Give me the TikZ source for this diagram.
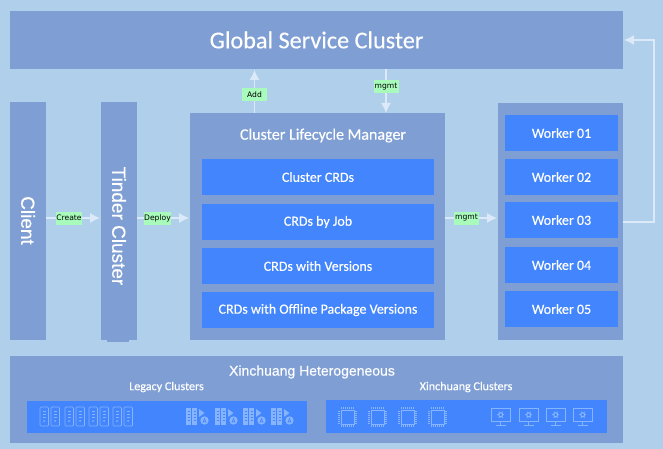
\documentclass[tikz,border=0pt]{standalone}
\usepackage{fontspec}
\setmainfont{Carlito}[FakeBold=0.25]
\newfontfamily\arialfont{Liberation Sans}[FakeBold=0.35]
\newfontfamily\tagfont{DejaVu Sans}
\usetikzlibrary{positioning}
\usetikzlibrary{arrows.meta}
\definecolor{mybg}{HTML}{B0CFEA}
\definecolor{mypanel}{HTML}{7F9FD4}
\definecolor{myblue}{HTML}{4285FC}
\definecolor{mygreen}{HTML}{A8FBBB}
\definecolor{myflow}{HTML}{DCE9F8}
\definecolor{myicon}{HTML}{86B4FF}
\tikzset{
  mypanel/.style={fill=mypanel,inner sep=0,outer sep=0,text=white,align=center},
  mybox/.style={fill=myblue,inner sep=0,outer sep=0,text=white,align=center,font=\fontsize{14}{16}\selectfont},
  mytag/.style={fill=mygreen,inner sep=0,minimum width=25,minimum height=13,text=black,font=\tagfont\fontsize{7.6}{9}\selectfont},
  myarrow/.style={-{Latex[length=10,width=10]},myflow,line width=1.1},
  mytext/.style={text=white,inner sep=0},
  myside/.style={mytext,rotate=-90,font=\arialfont\fontsize{19}{21}\selectfont},
  iconline/.style={draw=myicon,line width=0.7},
  rackpair/.pic={
    \foreach \x in {0,11} {
      \draw[iconline,rounded corners=1] (\x,0) rectangle (\x+8.5,19);
      \foreach \y in {4,7,10} \draw[iconline,line width=0.5] (\x+3,\y) -- (\x+5.5,\y);
      \fill[myicon] (\x+4.2,14) circle (1);
    }
  },
  rackplay/.pic={
    \foreach \x in {0,6} {
      \fill[myicon] (\x,0) rectangle (\x+5,17);
      \foreach \y in {3,6,9,12} \draw[myblue,line width=0.5] (\x+1.5,\y) -- (\x+3.5,\y);
    }
    \fill[myicon] (13,1) -- (18.5,5) -- (13,9) -- cycle;
    \fill[myicon] (18.5,12.5) circle (4.2);
    \draw[myblue,line width=0.6] (16.8,15) -- (18.5,10.5) -- (20.2,15) (17.4,13.6) -- (19.6,13.6);
  },
  chip/.pic={
    \draw[iconline,line width=0.9] (3,3) rectangle (16,17);
    \foreach \t in {4,6,...,16} {
      \draw[iconline,line width=0.5] (\t-0.5,0) -- (\t-0.5,2) (\t-0.5,18) -- (\t-0.5,20);
      \draw[iconline,line width=0.5] (0,\t) -- (2,\t) (17,\t) -- (19,\t);
    }
  },
  monitor/.pic={
    \draw[iconline] (0,0) rectangle (19.5,13.5);
    \draw[iconline,line width=1] (9.7,13.5) -- (9.7,16.5);
    \draw[iconline,line width=1] (5,17) -- (14.5,17);
    \draw[iconline,line width=1.1] (9.7,6.8) circle (2);
    \foreach \a in {0,60,...,300} \draw[iconline,line width=0.8] (9.7,6.8) ++(\a:2.4) -- ++(\a:1.2);
  }
}

\begin{document}
\begin{tikzpicture}[x=1pt,y=-1pt]
  \def\bw{232} % width of the boxes in the manager
  \def\wk{113} % width of the worker boxes
  \def\bh{36} % height of all the small boxes

  \fill[mybg] (0,0) rectangle (663,449);
  \useasboundingbox (0,0) rectangle (663,449);

  % top
  \node[mypanel,minimum width=613,minimum height=58,font=\fontsize{24.2}{28}\selectfont] (global) at (316.5,40) {Global Service Cluster};

  % left columns
  \node[mypanel,minimum width=36,minimum height=238] (client) at (28,221) {};
  \node[myside] (clienttxt) at (28,220.5) {Client};
  \node[mypanel,minimum width=36,minimum height=238] (tinder) at (119,221) {};
  \fill[mypanel] (107,340) rectangle (129,342);
  \node[myside] (tindertxt) at (119,226) {Tinder Cluster};

  % manager
  \node[mypanel,minimum width=255,minimum height=227] (clm) at (317.5,226.5) {};
  \node[mytext,font=\fontsize{16}{19}\selectfont] (clmtxt) at (323,135.5) {Cluster Lifecycle Manager};
  \node[mybox,minimum width=\bw,minimum height=\bh] (crd0) at (318,177) {Cluster CRDs};
  \node[mybox,minimum width=\bw,minimum height=\bh,below=9pt of crd0] (crd1) {CRDs by Job};
  \node[mybox,minimum width=\bw,minimum height=\bh,below=8pt of crd1] (crd2) {CRDs with Versions};
  \node[mybox,minimum width=\bw,minimum height=\bh,below=8pt of crd2] (crd3) {CRDs with Offline Package Versions};

  % workers
  \node[mypanel,minimum width=125,minimum height=237] (workers) at (560.5,221.5) {};
  \node[mybox,minimum width=\wk,minimum height=\bh] (w1) at (561.5,133) {Worker 01};
  \node[mybox,minimum width=\wk,minimum height=\bh,below=8pt of w1] (w2) {Worker 02};
  \node[mybox,minimum width=\wk,minimum height=\bh,below=7pt of w2] (w3) {Worker 03};
  \node[mybox,minimum width=\wk,minimum height=\bh,below=9pt of w3] (w4) {Worker 04};
  \node[mybox,minimum width=\wk,minimum height=\bh,below=8pt of w4] (w5) {Worker 05};

  % bottom
  \node[mypanel,minimum width=613,minimum height=87] (xc) at (316.5,399.5) {};
  \node[mytext,font=\arialfont\fontsize{14}{16}\selectfont] (xctxt) at (312,372) {Xinchuang Heterogeneous};
  \node[mytext,font=\fontsize{12.1}{14}\selectfont] (legacytxt) at (166.5,387) {Legacy Clusters};
  \node[mytext,font=\fontsize{12.1}{14}\selectfont] (xinctxt) at (466,387) {Xinchuang Clusters};
  \node[mybox,minimum width=280,minimum height=32] (legacy) at (167,417) {};
  \node[mybox,minimum width=281,minimum height=33] (xinc) at (466.5,416.5) {};

  % icons
  \foreach \x in {40,65,89,113} \pic at (\x,407) {rackpair};
  \foreach \x in {186,215,243,271} \pic at (\x,408) {rackplay};
  \foreach \x in {338,368,398,428} \pic at (\x,407) {chip};
  \foreach \x in {491,519,546,573} \pic at (\x,408) {monitor};

  % connectors
  \coordinate (flowy) at (0,218);
  \coordinate (addx) at (254.5,0);
  \coordinate (mgmtx) at (386,0);
  \coordinate (turn) at (654,222);
  \draw[myarrow,shorten >=1] (client.east |- flowy) -- node[mytag,pos=.417] (create) {Create} (tinder.west |- flowy);
  \draw[myarrow,shorten >=1] (tinder.east |- flowy) -- node[mytag,pos=.387] (deploy) {Deploy} (clm.west |- flowy);
  \draw[myarrow,shorten >=1] (clm.east |- flowy) -- node[mytag,pos=.406] (mgmtw) {mgmt} (workers.west |- flowy);
  \draw[myarrow,shorten >=1] (clm.north -| addx) -- node[mytag,pos=.42] (add) {Add} (global.south -| addx);
  \draw[myarrow] (global.south -| mgmtx) -- node[mytag,pos=.4] (mgmtg) {mgmt} (clm.north -| mgmtx);
  \draw[myarrow,line width=1.5,shorten >=1] (workers.east |- turn) -- (turn) -- (turn |- global.east) -- (global.east);
\end{tikzpicture}
\end{document}
